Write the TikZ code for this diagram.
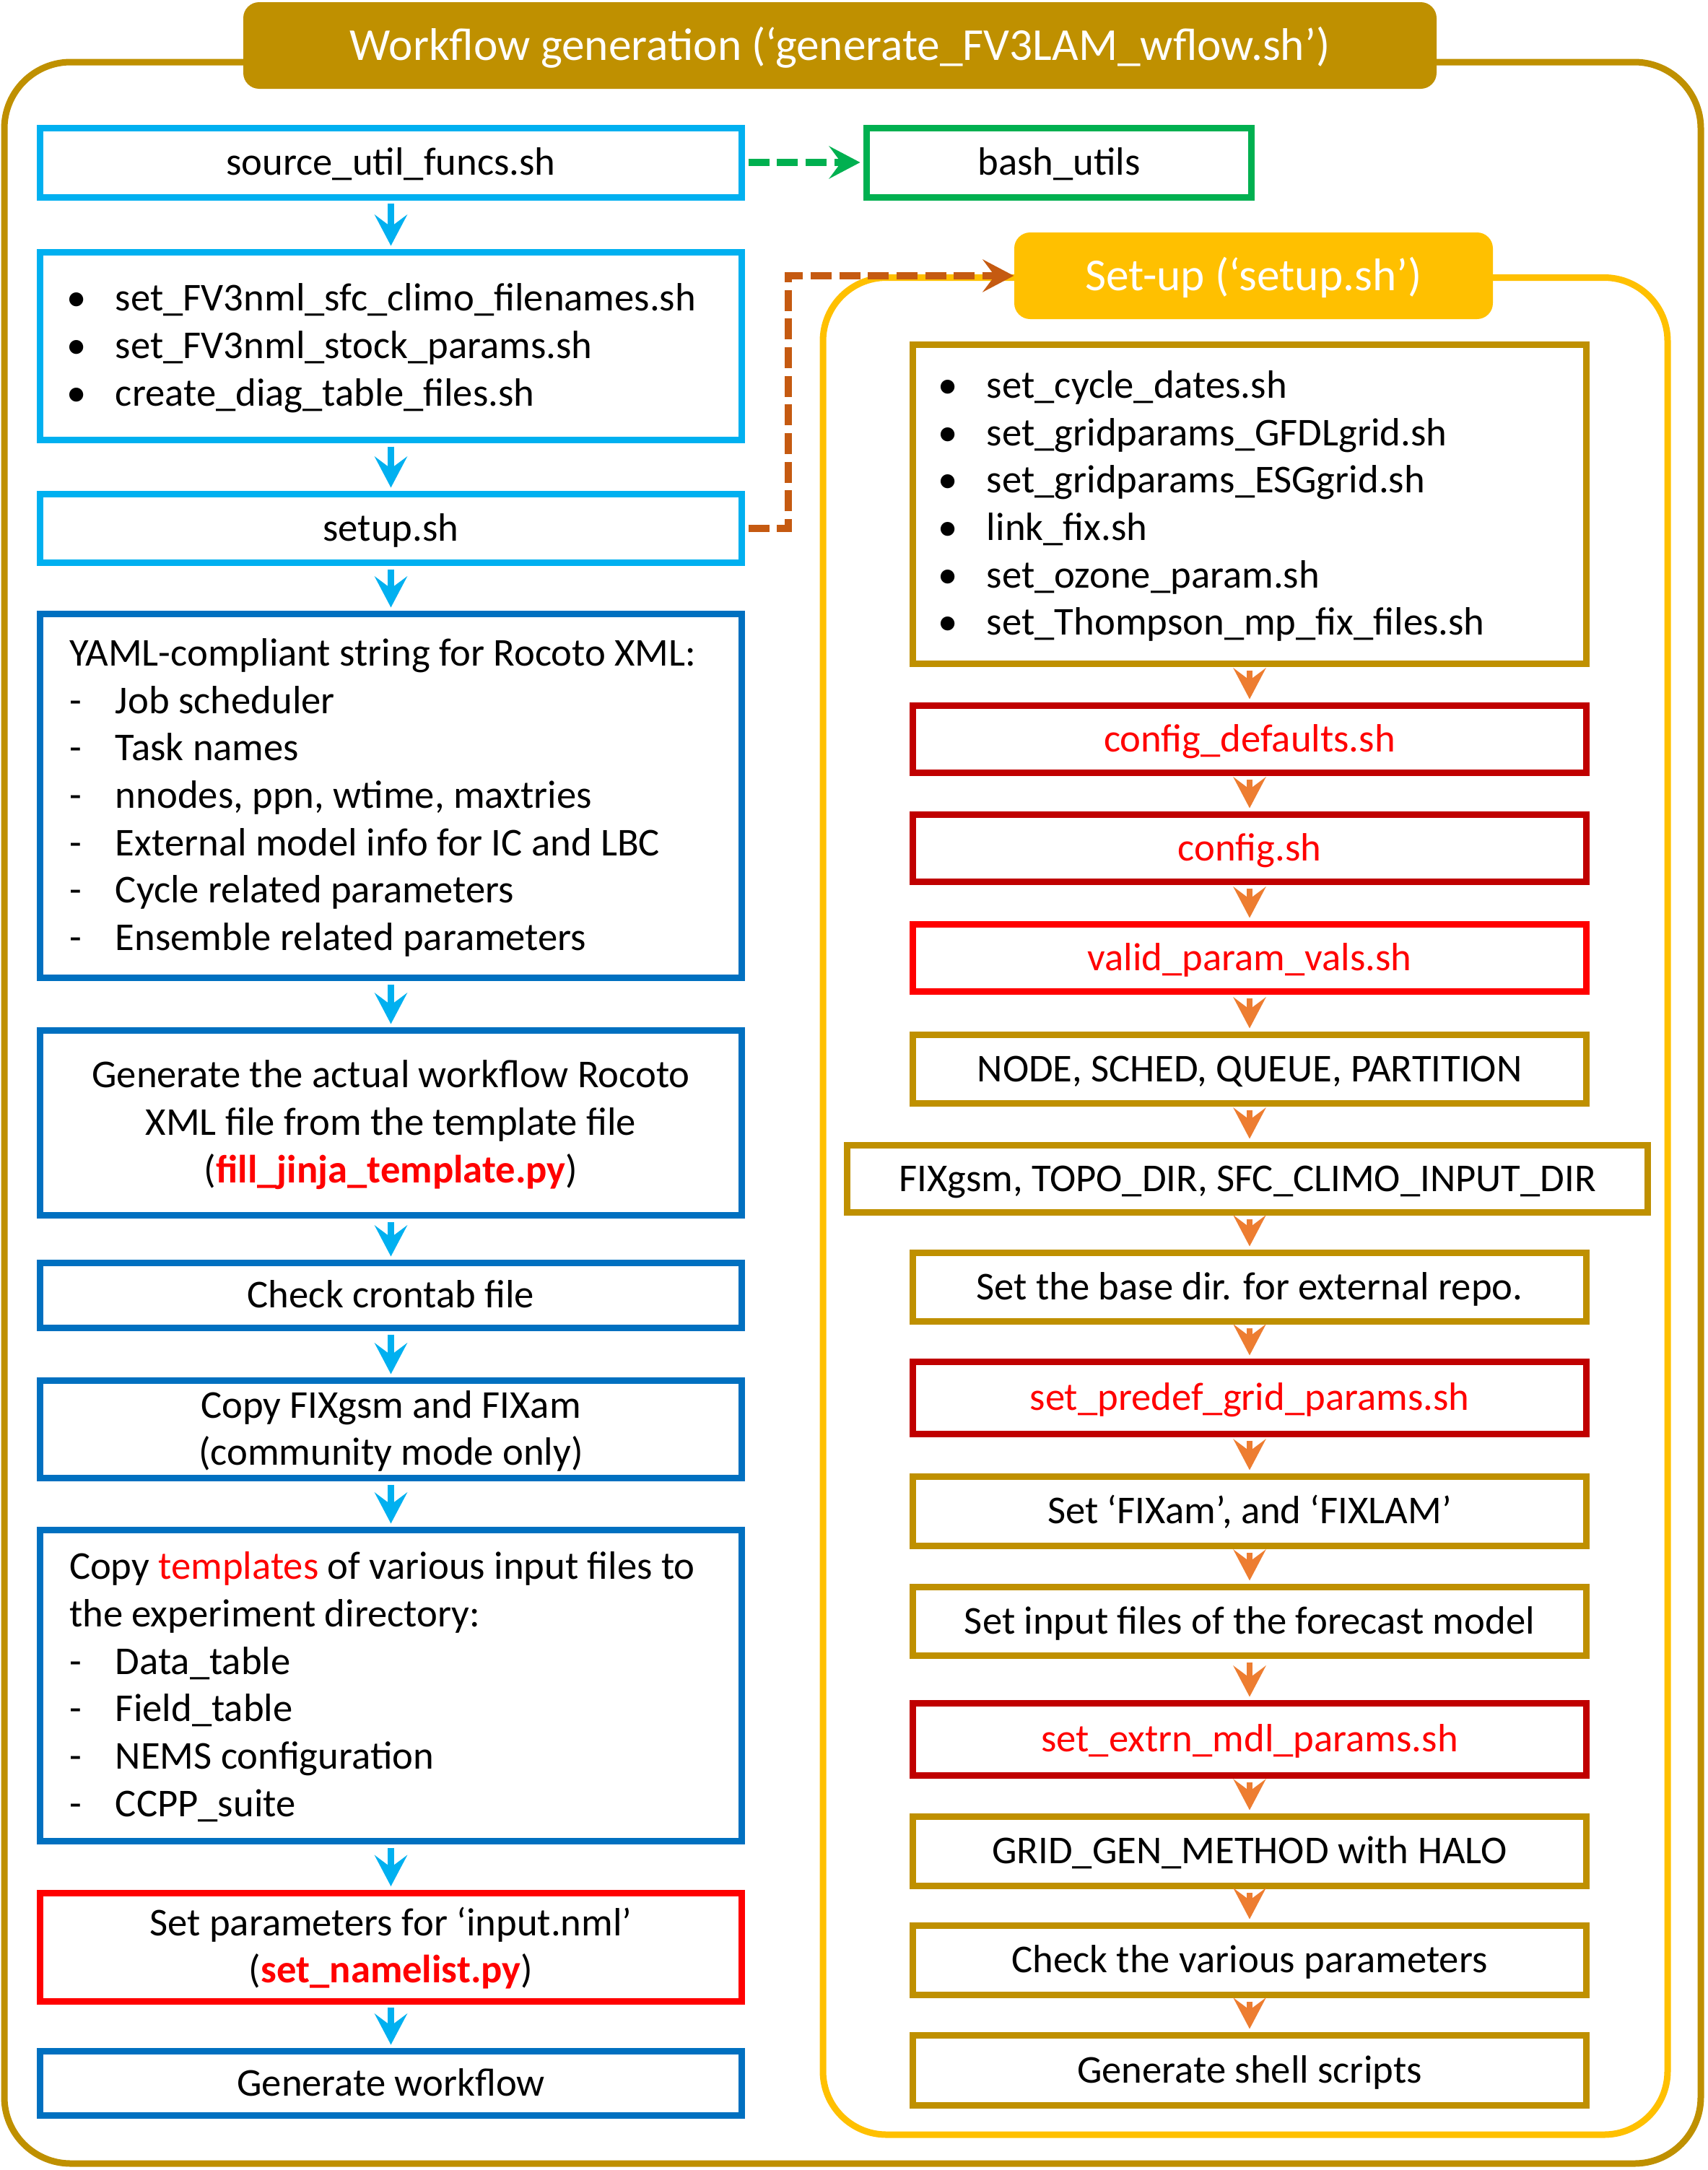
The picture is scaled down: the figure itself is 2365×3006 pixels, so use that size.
\documentclass[tikz,border=0pt]{standalone}
\usepackage{fontspec}
\setmainfont{Carlito}
\usetikzlibrary{arrows.meta}
\definecolor{gold}{HTML}{BF9000}
\definecolor{amber}{HTML}{FFC000}
\definecolor{lblue}{HTML}{00B0F0}
\definecolor{dblue}{HTML}{0070C0}
\definecolor{grn}{HTML}{00B050}
\definecolor{rust}{HTML}{C55A11}
\definecolor{orng}{HTML}{ED7D31}
\definecolor{dred}{HTML}{C00000}
\definecolor{pred}{HTML}{FF0000}
\newcommand\bodyfont{\fontsize{16.4pt}{19.7pt}\selectfont}
\newcommand\bannerfont{\fontsize{19pt}{22.8pt}\selectfont}
\newcommand\li[2]{\mbox{\makebox[19.2pt][l]{#1}#2}}
\newcommand\bul{\hspace*{-1.2pt}•}
\begin{document}
\begin{tikzpicture}[x=0.3pt,y=-0.3pt,
  box/.style={draw, line width=2.7pt, fill=white, inner sep=0pt, font=\bodyfont,
              text height=13pt, text depth=2.8pt},
  lbox/.style={box, minimum width=291.6pt},
  rbox/.style={box, minimum width=279.9pt},
  listl/.style={text width=267.3pt, align=flush left, inner xsep=12.15pt},
  listr/.style={text width=256.8pt, align=flush left, inner xsep=11.55pt},
  cent/.style={text width=291.6pt, align=flush center},
  lines2/.style={text depth=22.5pt},
  lines3/.style={text depth=42.2pt},
  lines6/.style={text depth=101.3pt},
  lines7/.style={text depth=121pt},
  banner/.style={rounded corners=6.6pt, minimum height=36pt, inner sep=0pt, text=white,
                 font=\bannerfont, text height=15pt, text depth=2.6pt},
  tipshape/.style={-{Stealth[length=12.9pt,width=13.5pt,inset=5pt]}},
  larr/.style={tipshape, draw=lblue, line width=2.6pt, shorten >=1.35pt, shorten <=1.35pt},
  rarr/.style={tipshape, draw=orng, line width=2.6pt, shorten >=1.35pt, shorten <=1.35pt},
  dashedarr/.style={tipshape, line width=2.8pt, dash pattern=on 8.7pt off 3.2pt}
]
\useasboundingbox (0,0) rectangle (2365,3006);

% outer frame and title
\draw[gold, line width=2.7pt, rounded corners=27.6pt] (6,86) rectangle (2356,2997);
\node[banner, fill=gold, minimum width=495.9pt] (title) at (1163.5,63)
  {Workflow generation (‘generate\_FV3LAM\_wflow.sh’)};

% set-up frame and banner
\draw[amber, line width=2.7pt, rounded corners=26.4pt] (1140,384.5) rectangle (2310,2957);
\node[banner, fill=amber, minimum width=198.9pt] (sbanner) at (1736.5,382)
  {Set-up (‘setup.sh’)};

% left column
\node[lbox, draw=lblue, minimum height=28.8pt] (b1) at (541.5,225) {source\_util\_funcs.sh};
\node[box, draw=grn, minimum width=159.9pt, minimum height=28.8pt] (bash) at (1467,225) {bash\_utils};
\node[lbox, listl, lines3, draw=lblue, minimum height=78pt] (b2) at (541.5,479.5)
  {\li{\bul}{set\_FV3nml\_sfc\_climo\_filenames.sh}\\
   \li{\bul}{set\_FV3nml\_stock\_params.sh}\\
   \li{\bul}{create\_diag\_table\_files.sh}};
\node[lbox, draw=lblue, minimum height=28.5pt] (b3) at (541.5,732) {setup.sh};
\node[lbox, listl, lines7, draw=dblue, minimum height=151.2pt] (b4) at (541.5,1102.5)
  {\mbox{YAML-compliant string for Rocoto XML:}\\
   \li{-}{Job scheduler}\\
   \li{-}{Task names}\\
   \li{-}{nnodes, ppn, wtime, maxtries}\\
   \li{-}{External model info for IC and LBC}\\
   \li{-}{Cycle related parameters}\\
   \li{-}{Ensemble related parameters}};
\node[lbox, cent, lines3, draw=dblue, minimum height=76.8pt] (b5) at (541.5,1555.5)
  {\mbox{Generate the actual workflow Rocoto}\\
   \mbox{XML file from the template file}\\
   \mbox{(\textcolor{pred}{\bfseries fill\_jinja\_template.py})}};
\node[lbox, draw=dblue, minimum height=27pt] (b6) at (541.5,1794.5) {Check crontab file};
\node[lbox, cent, lines2, draw=dblue, minimum height=40.5pt] (b7) at (541.5,1980)
  {\mbox{Copy FIXgsm and FIXam}\\\mbox{(community mode only)}};
\node[lbox, listl, lines6, draw=dblue, minimum height=129.3pt] (b8) at (541.5,2335)
  {\mbox{Copy \textcolor{pred}{templates} of various input files to}\\
   \mbox{the experiment directory:}\\
   \li{-}{Data\_table}\\
   \li{-}{Field\_table}\\
   \li{-}{NEMS configuration}\\
   \li{-}{CCPP\_suite}};
\node[lbox, cent, lines2, draw=pred, minimum height=45pt] (b9) at (541.5,2697)
  {\mbox{Set parameters for ‘input.nml’}\\\mbox{(\textcolor{pred}{\bfseries set\_namelist.py})}};
\node[lbox, draw=dblue, minimum height=26.7pt] (b10) at (541.5,2886) {Generate workflow};

% right column
\node[rbox, listr, lines6, draw=gold, minimum height=132.6pt] (r1) at (1731,698.5)
  {\li{\bul}{set\_cycle\_dates.sh}\\
   \li{\bul}{set\_gridparams\_GFDLgrid.sh}\\
   \li{\bul}{set\_gridparams\_ESGgrid.sh}\\
   \li{\bul}{link\_fix.sh}\\
   \li{\bul}{set\_ozone\_param.sh}\\
   \li{\bul}{set\_Thompson\_mp\_fix\_files.sh}};
\node[rbox, draw=dred, text=pred, minimum height=27.9pt] (r2) at (1731,1024) {config\_defaults.sh};
\node[rbox, draw=dred, text=pred, minimum height=27.9pt] (r3) at (1731,1175) {config.sh};
\node[rbox, draw=pred, text=pred, minimum height=27.9pt] (r4) at (1731,1327) {valid\_param\_vals.sh};
\node[rbox, draw=gold, minimum height=28.5pt] (r5) at (1731,1481) {NODE, SCHED, QUEUE, PARTITION};
\node[box, draw=gold, minimum width=332.7pt, minimum height=27.9pt] (r6) at (1728,1633) {FIXgsm, TOPO\_DIR, SFC\_CLIMO\_INPUT\_DIR};
\node[rbox, draw=gold, minimum height=28.5pt] (r7) at (1731,1783) {Set the base dir. for external repo.};
\node[rbox, draw=dred, text=pred, minimum height=30pt] (r8) at (1731,1936.5) {set\_predef\_grid\_params.sh};
\node[rbox, draw=gold, minimum height=28.8pt] (r9) at (1731,2093.5) {Set ‘FIXam’, and ‘FIXLAM’};
\node[rbox, draw=gold, minimum height=28.5pt] (r10) at (1731,2246) {Set input files of the forecast model};
\node[rbox, draw=dred, text=pred, minimum height=30pt] (r11) at (1731,2409.5) {set\_extrn\_mdl\_params.sh};
\node[rbox, draw=gold, minimum height=28.8pt] (r12) at (1731,2564.5) {GRID\_GEN\_METHOD with HALO};
\node[rbox, draw=gold, minimum height=28.8pt] (r13) at (1731,2715.5) {Check the various parameters};
\node[rbox, draw=gold, minimum height=29.1pt] (r14) at (1731,2868) {Generate shell scripts};

% left arrows
\draw[larr] (b1.south) -- (b2.north);
\draw[larr] (b2.south) -- (b3.north);
\draw[larr] (b3.south) -- (b4.north);
\draw[larr] (b4.south) -- (b5.north);
\draw[larr] (b5.south) -- (b6.north);
\draw[larr] (b6.south) -- (b7.north);
\draw[larr] (b7.south) -- (b8.north);
\draw[larr] (b8.south) -- (b9.north);
\draw[larr] (b9.south) -- (b10.north);

% right arrows
\draw[rarr] (r1.south) -- (r2.north);
\draw[rarr] (r2.south) -- (r3.north);
\draw[rarr] (r3.south) -- (r4.north);
\draw[rarr] (r4.south) -- (r5.north);
\draw[rarr] (r5.south) -- (r5.south |- r6.north);
\draw[rarr] (r6.south -| r7.north) -- (r7.north);
\draw[rarr] (r7.south) -- (r8.north);
\draw[rarr] (r8.south) -- (r9.north);
\draw[rarr] (r9.south) -- (r10.north);
\draw[rarr] (r10.south) -- (r11.north);
\draw[rarr] (r11.south) -- (r12.north);
\draw[rarr] (r12.south) -- (r13.north);
\draw[rarr] (r13.south) -- (r14.north);

% dashed connectors
\draw[dashedarr, draw=grn, shorten <=1.35pt, shorten >=1.35pt] (b1.east) -- (bash.west);
\coordinate (bend) at (1092,382);
\draw[dashedarr, draw=rust, shorten <=1.35pt] (b3.east) -| (bend) -- (sbanner.west);
\end{tikzpicture}
\end{document}
